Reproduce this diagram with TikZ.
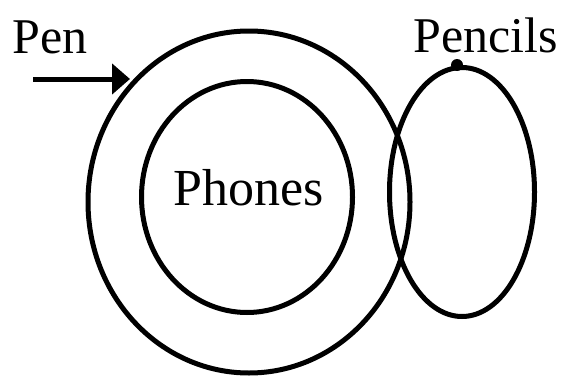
\documentclass[tikz,border=0pt]{standalone}
\usepackage{fontspec}
\setmainfont{Liberation Serif}
\usetikzlibrary{shapes.geometric,arrows.meta}
\begin{document}
\begin{tikzpicture}[x=1pt,y=1pt,
  ring/.style={draw=black,line width=5pt,ellipse,inner sep=0pt},
  lbl/.style={inner sep=0pt,font=\fontsize{50}{60}\selectfont},
  penarrow/.style={line width=5pt,-{Triangle[length=18pt,width=30pt]}}]
\useasboundingbox[fill=white] (0,0) rectangle (567,376);
\node[ring,minimum width=322pt,minimum height=342pt] (outer) at (249,174) {};
\node[ring,minimum width=211pt,minimum height=231pt] (inner) at (247,179) {};
\node[ring,minimum width=145pt,minimum height=249pt] (pencil) at (462,184) {};
\node[lbl,anchor=base west] (pen) at (12,323) {Pen};
\node[lbl,anchor=base west] (pencils) at (413,324) {Pencils};
\node[lbl,anchor=base,font=\fontsize{52}{60}\selectfont] (phones) at (249,171) {Phones};
\fill (pencil.north) ++(-5,0) coordinate (dotc) circle (6pt);
\coordinate (arrstart) at (33,297);
\coordinate (arrtip) at (130,297);
\draw[penarrow] (arrstart) -- (arrtip);
\end{tikzpicture}
\end{document}
